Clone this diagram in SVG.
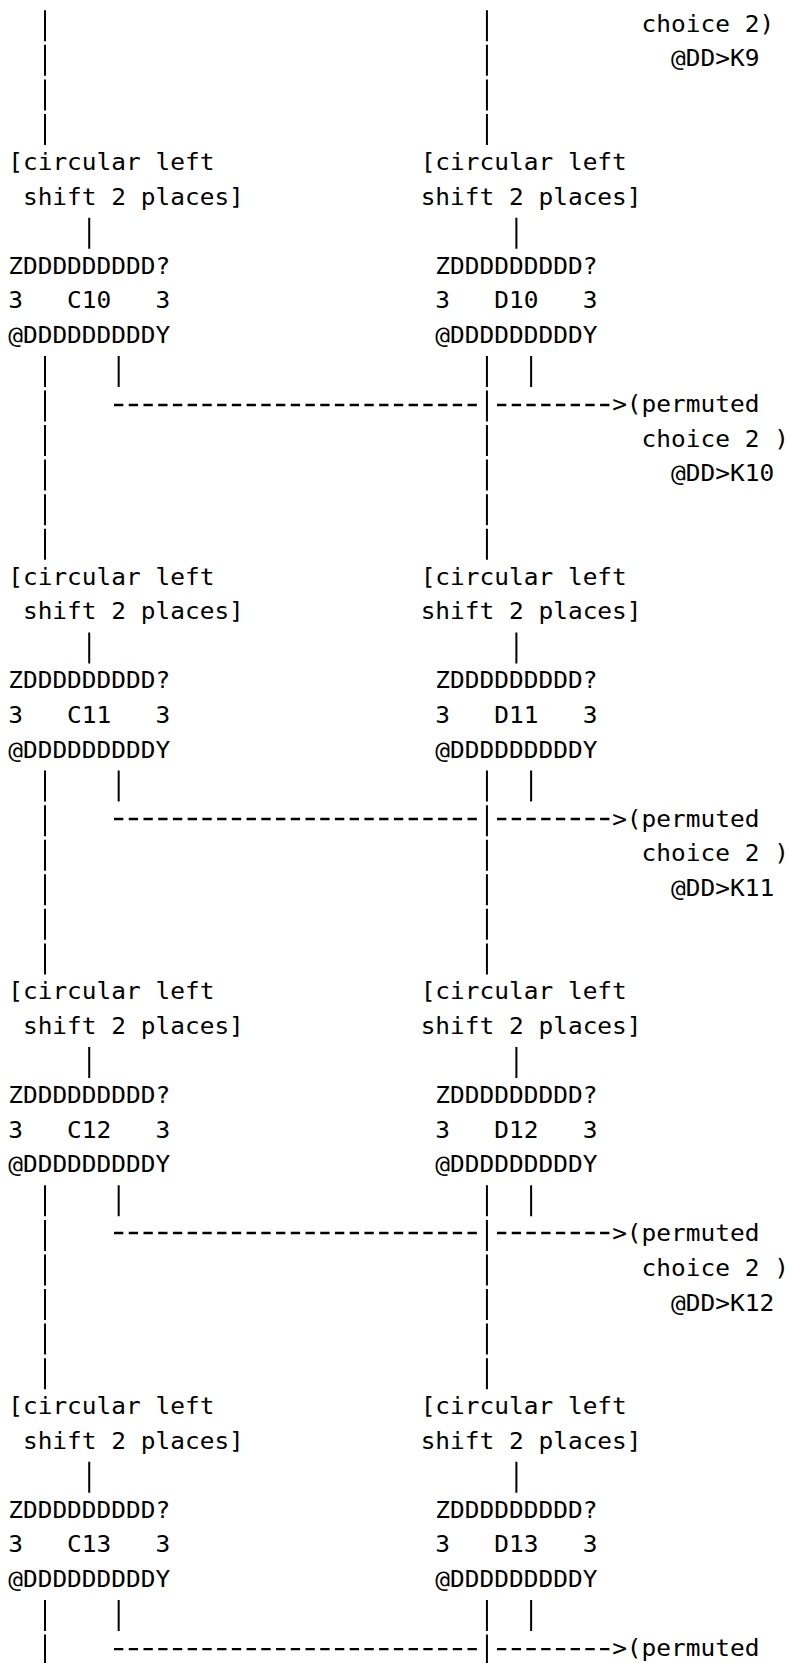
<svg xmlns="http://www.w3.org/2000/svg" width="790" height="1663" viewBox="0 0 790 1663">
  <style>
    text { font-family: "DejaVu Sans Mono", "Liberation Mono", monospace; font-size: 22.5px; fill: #000; }
    .bar { stroke: #000; stroke-width: 2; fill: none; stroke-dasharray: 31 3.56; }
    .dash { stroke: #000; stroke-width: 2.4; fill: none; stroke-dasharray: 9.33 5.4; }
  </style>
  <rect width="790" height="1663" fill="#fff"/>

  <!-- connectors: vertical bars and dashed feeds into permuted choice 2 -->
  <g id="connectors">
    <!-- main C and D trunks -->
    <path class="bar" d="M45.03 10.3 V145 M486.93 10.3 V145"/>
    <path class="bar" d="M45.03 355.9 V559.7 M486.93 355.9 V559.7"/>
    <path class="bar" d="M45.03 770.62 V974.42 M486.93 770.62 V974.42"/>
    <path class="bar" d="M45.03 1185.34 V1389.14 M486.93 1185.34 V1389.14"/>
    <path class="bar" d="M45.03 1600.06 V1665.62 M486.93 1600.06 V1665.62"/>
    <!-- shift output into registers -->
    <path class="bar" d="M89.22 217.66 V248.66 M516.39 217.66 V248.66"/>
    <path class="bar" d="M89.22 632.38 V663.38 M516.39 632.38 V663.38"/>
    <path class="bar" d="M89.22 1047.1 V1078.1 M516.39 1047.1 V1078.1"/>
    <path class="bar" d="M89.22 1461.82 V1492.82 M516.39 1461.82 V1492.82"/>
    <!-- register taps -->
    <path class="bar" d="M118.68 355.9 V386.9 M531.12 355.9 V386.9"/>
    <path class="bar" d="M118.68 770.62 V801.62 M531.12 770.62 V801.62"/>
    <path class="bar" d="M118.68 1185.34 V1216.34 M531.12 1185.34 V1216.34"/>
    <path class="bar" d="M118.68 1600.06 V1631.06 M531.12 1600.06 V1631.06"/>
    <!-- dashed feeds -->
    <path class="dash" d="M114.01 404.96 H476.86 M496.99 404.96 H609.43"/>
    <path class="dash" d="M114.01 818.96 H476.86 M496.99 818.96 H609.43"/>
    <path class="dash" d="M114.01 1232.96 H476.86 M496.99 1232.96 H609.43"/>
    <path class="dash" d="M114.01 1649.12 H476.86 M496.99 1649.12 H609.43"/>
  </g>

  <!-- labels are set on a slightly widened monospace grid (13.545 units per column) -->
  <g id="labels" transform="scale(1.0875 1)">
    <!-- key K9 (tail of previous round) -->
    <g id="pc2-k9">
      <text x="589.968" y="31.8">choice 2)</text>
      <text x="617.057" y="66.36">@DD&gt;K9</text>
    </g>

    <!-- round 10 -->
    <g id="shift-c10">
      <text x="7.54" y="170.04">[circular left</text>
      <text x="21.085" y="204.6">shift 2 places]</text>
    </g>
    <g id="shift-d10">
      <text x="386.795" y="170.04">[circular left</text>
      <text x="386.795" y="204.6">shift 2 places]</text>
    </g>
    <g id="reg-c10">
      <text x="7.54" y="273.72">ZDDDDDDDDD?</text>
      <text x="7.54" y="308.28">3</text><text x="61.719" y="308.28">C10</text><text x="142.989" y="308.28">3</text>
      <text x="7.54" y="342.84">@DDDDDDDDDY</text>
    </g>
    <g id="reg-d10">
      <text x="400.34" y="273.72">ZDDDDDDDDD?</text>
      <text x="400.34" y="308.28">3</text><text x="454.52" y="308.28">D10</text><text x="535.789" y="308.28">3</text>
      <text x="400.34" y="342.84">@DDDDDDDDDY</text>
    </g>
    <g id="pc2-k10">
      <text x="562.878" y="411.96">&gt;(permuted</text>
      <text x="589.968" y="446.52">choice 2 )</text>
      <text x="617.057" y="481.08">@DD&gt;K10</text>
    </g>

    <!-- round 11 -->
    <g id="shift-c11">
      <text x="7.54" y="584.76">[circular left</text>
      <text x="21.085" y="619.32">shift 2 places]</text>
    </g>
    <g id="shift-d11">
      <text x="386.795" y="584.76">[circular left</text>
      <text x="386.795" y="619.32">shift 2 places]</text>
    </g>
    <g id="reg-c11">
      <text x="7.54" y="688.44">ZDDDDDDDDD?</text>
      <text x="7.54" y="723">3</text><text x="61.719" y="723">C11</text><text x="142.989" y="723">3</text>
      <text x="7.54" y="757.56">@DDDDDDDDDY</text>
    </g>
    <g id="reg-d11">
      <text x="400.34" y="688.44">ZDDDDDDDDD?</text>
      <text x="400.34" y="723">3</text><text x="454.52" y="723">D11</text><text x="535.789" y="723">3</text>
      <text x="400.34" y="757.56">@DDDDDDDDDY</text>
    </g>
    <g id="pc2-k11">
      <text x="562.878" y="826.68">&gt;(permuted</text>
      <text x="589.968" y="861.24">choice 2 )</text>
      <text x="617.057" y="895.8">@DD&gt;K11</text>
    </g>

    <!-- round 12 -->
    <g id="shift-c12">
      <text x="7.54" y="999.48">[circular left</text>
      <text x="21.085" y="1034.04">shift 2 places]</text>
    </g>
    <g id="shift-d12">
      <text x="386.795" y="999.48">[circular left</text>
      <text x="386.795" y="1034.04">shift 2 places]</text>
    </g>
    <g id="reg-c12">
      <text x="7.54" y="1103.16">ZDDDDDDDDD?</text>
      <text x="7.54" y="1137.72">3</text><text x="61.719" y="1137.72">C12</text><text x="142.989" y="1137.72">3</text>
      <text x="7.54" y="1172.28">@DDDDDDDDDY</text>
    </g>
    <g id="reg-d12">
      <text x="400.34" y="1103.16">ZDDDDDDDDD?</text>
      <text x="400.34" y="1137.72">3</text><text x="454.52" y="1137.72">D12</text><text x="535.789" y="1137.72">3</text>
      <text x="400.34" y="1172.28">@DDDDDDDDDY</text>
    </g>
    <g id="pc2-k12">
      <text x="562.878" y="1241.4">&gt;(permuted</text>
      <text x="589.968" y="1275.96">choice 2 )</text>
      <text x="617.057" y="1310.52">@DD&gt;K12</text>
    </g>

    <!-- round 13 -->
    <g id="shift-c13">
      <text x="7.54" y="1414.2">[circular left</text>
      <text x="21.085" y="1448.76">shift 2 places]</text>
    </g>
    <g id="shift-d13">
      <text x="386.795" y="1414.2">[circular left</text>
      <text x="386.795" y="1448.76">shift 2 places]</text>
    </g>
    <g id="reg-c13">
      <text x="7.54" y="1517.88">ZDDDDDDDDD?</text>
      <text x="7.54" y="1552.44">3</text><text x="61.719" y="1552.44">C13</text><text x="142.989" y="1552.44">3</text>
      <text x="7.54" y="1587">@DDDDDDDDDY</text>
    </g>
    <g id="reg-d13">
      <text x="400.34" y="1517.88">ZDDDDDDDDD?</text>
      <text x="400.34" y="1552.44">3</text><text x="454.52" y="1552.44">D13</text><text x="535.789" y="1552.44">3</text>
      <text x="400.34" y="1587">@DDDDDDDDDY</text>
    </g>
    <g id="pc2-k13">
      <text x="562.878" y="1656.12">&gt;(permuted</text>
    </g>
  </g>
</svg>
